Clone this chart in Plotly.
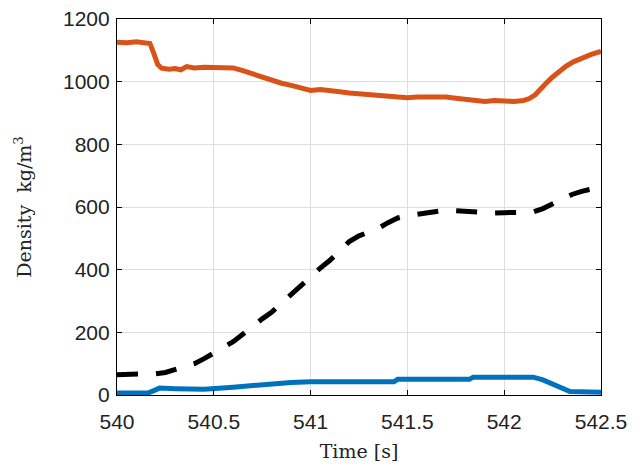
import plotly.graph_objects as go

# Liquid-phase density (orange)
t_liquid = [540.00, 540.05, 540.10, 540.15, 540.17, 540.19, 540.21, 540.23, 540.27, 540.30,
            540.33, 540.36, 540.40, 540.45, 540.50, 540.55, 540.60, 540.65, 540.70, 540.75,
            540.80, 540.85, 540.90, 540.95, 541.00, 541.05, 541.10, 541.15, 541.20, 541.25,
            541.30, 541.35, 541.40, 541.45, 541.50, 541.55, 541.60, 541.65, 541.70, 541.75,
            541.80, 541.85, 541.90, 541.95, 542.00, 542.05, 542.10, 542.13, 542.16, 542.19,
            542.22, 542.25, 542.28, 542.32, 542.36, 542.40, 542.45, 542.50]
rho_liquid = [1126, 1124, 1127, 1125, 1122, 1090, 1055, 1043, 1040, 1042,
              1038, 1048, 1044, 1046, 1045, 1047, 1044, 1035, 1025, 1012,
              1003, 995, 988, 982, 972, 975, 973, 968, 964, 961,
              958, 957, 953, 950, 949, 951, 950, 953, 951, 947,
              943, 939, 937, 940, 938, 937, 940, 946, 958, 975,
              997, 1015, 1032, 1050, 1064, 1075, 1087, 1097]

# Mixture density (black dashed)
t_mix = [540.00, 540.10, 540.15, 540.20, 540.25, 540.30, 540.35, 540.40, 540.45, 540.50,
         540.55, 540.60, 540.65, 540.70, 540.75, 540.80, 540.85, 540.90, 540.95, 541.00,
         541.05, 541.10, 541.15, 541.20, 541.25, 541.30, 541.35, 541.40, 541.45, 541.50,
         541.55, 541.60, 541.65, 541.70, 541.75, 541.80, 541.85, 541.90, 541.95, 542.00,
         542.05, 542.10, 542.15, 542.20, 542.25, 542.30, 542.35, 542.40, 542.45, 542.50]
rho_mix = [65, 65, 66, 68, 72, 80, 90, 100, 116, 136,
           152, 170, 192, 218, 243, 265, 293, 322, 350, 378,
           405, 430, 458, 490, 508, 520, 532, 550, 565, 572,
           577, 584, 589, 590, 588, 586, 583, 582, 581, 582,
           582, 581, 584, 595, 610, 626, 640, 650, 657, 664]

# Gas-phase density (blue)
t_gas = [540.00, 540.16, 540.19, 540.22, 540.30, 540.45, 540.60, 540.75, 540.90, 541.00,
         541.43, 541.45, 541.82, 541.84, 542.15, 542.20, 542.25, 542.30, 542.34, 542.50]
rho_gas = [6, 6, 14, 22, 20, 18, 25, 33, 40, 42,
           42, 50, 50, 57, 57, 48, 36, 20, 11, 9]

x_ticks = [540, 540.5, 541, 541.5, 542, 542.5]
x_ticklabels = ["540", "540.5", "541", "541.5", "542", "542.5"]
y_ticks = [0, 200, 400, 600, 800, 1000, 1200]

fig = go.Figure()
fig.add_trace(go.Scatter(x=t_liquid, y=rho_liquid, mode="lines",
                         line=dict(color="#D95319", width=5), showlegend=False))
fig.add_trace(go.Scatter(x=t_mix, y=rho_mix, mode="lines",
                         line=dict(color="black", width=5, dash="21px,18px"), showlegend=False))
fig.add_trace(go.Scatter(x=t_gas, y=rho_gas, mode="lines",
                         line=dict(color="#0072BD", width=5), showlegend=False))

title_font = dict(family="DejaVu Serif, serif", size=19, color="#222222")
axis_common = dict(showline=True, linecolor="black", linewidth=1.2, mirror="ticks",
                   ticks="inside", ticklen=5, tickcolor="black", automargin=False,
                   showgrid=True, gridcolor="#dedede", gridwidth=1, zeroline=False,
                   tickfont=dict(family="Liberation Sans, Arial", size=21, color="#222222"))

fig.update_xaxes(range=[540, 542.5], tickvals=x_ticks, ticktext=x_ticklabels,
                 ticklabelstandoff=8,
                 title=dict(text="Time [s]", font=title_font, standoff=12),
                 **axis_common)
fig.update_yaxes(range=[0, 1200], tickvals=y_ticks,
                 ticklabelstandoff=2,
                 title=dict(text="Density  kg/m<sup>3</sup>", font=title_font, standoff=26),
                 **axis_common)

fig.update_layout(width=644, height=468, plot_bgcolor="white", paper_bgcolor="white",
                  margin=dict(l=117, r=43, t=19, b=73))

fig.write_html("out.html")
